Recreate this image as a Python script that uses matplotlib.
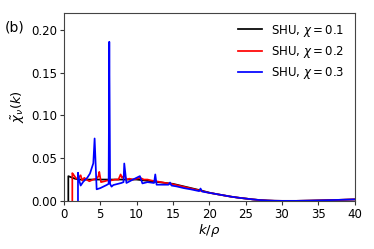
import matplotlib
matplotlib.use("Agg")
import matplotlib.pyplot as plt

# SHU, chi = 0.1 (black)
k1 = [0.6, 0.6, 0.9, 1.5, 2, 3, 4, 5, 6, 7, 8, 9, 10, 11, 12, 13, 14, 15, 16, 17,
      18, 19, 20, 21, 22, 23, 24, 25, 26, 27, 28, 29, 30, 32, 34, 36, 38, 40]
y1 = [0, 0.029, 0.028, 0.026, 0.025, 0.025, 0.025, 0.025, 0.025, 0.025, 0.025, 0.025,
      0.025, 0.024, 0.023, 0.022, 0.021, 0.020, 0.018, 0.016, 0.014, 0.012, 0.0097,
      0.008, 0.0065, 0.005, 0.0038, 0.0028, 0.0018, 0.001, 0.0005, 0.0002, 0.0001,
      0.0001, 0.0004, 0.0008, 0.0013, 0.0018]

# SHU, chi = 0.2 (red)
k2 = [1.15, 1.15, 1.37, 1.7, 2.0, 2.3, 2.5, 2.8, 3.1, 3.5, 4.0, 4.5, 4.75, 4.86, 5.1,
      5.6, 6.0, 6.5, 7.0, 7.5, 7.8, 8.0, 8.3, 8.6, 9.0, 9.5, 10, 10.5, 11, 11.5, 12,
      13, 14, 15, 16, 17, 18, 19, 20, 21, 22, 23, 24, 25, 26, 27, 28, 29, 30, 32, 34,
      36, 38, 40]
y2 = [0, 0.0325, 0.030, 0.026, 0.027, 0.030, 0.024, 0.027, 0.025, 0.023, 0.025, 0.026,
      0.029, 0.034, 0.022, 0.023, 0.024, 0.024, 0.025, 0.025, 0.031, 0.027, 0.030,
      0.025, 0.026, 0.025, 0.026, 0.027, 0.025, 0.025, 0.024, 0.0225, 0.021, 0.0195,
      0.0175, 0.0155, 0.0135, 0.0115, 0.0095, 0.008, 0.0065, 0.005, 0.0038, 0.0028,
      0.0018, 0.001, 0.0005, 0.0002, 0.0001, 0.0001, 0.0004, 0.0008, 0.0013, 0.0018]

# SHU, chi = 0.3 (blue)
k3 = [1.93, 1.93, 2.1, 2.3, 2.66, 3.2, 3.58, 4.04, 4.22, 4.5, 5.0, 5.87, 6.15, 6.24,
      6.35, 6.55, 6.8, 7.9, 8.2, 8.3, 8.6, 9.5, 10.45, 10.8, 11.5, 12.4, 12.57, 12.75,
      13.5, 14.4, 14.6, 14.8, 15.5, 16.5, 17.5, 18.6, 18.8, 19.0, 20, 21, 22, 23, 24,
      25, 26, 27, 28, 29, 30, 32, 34, 36, 38, 40]
y3 = [0, 0.033, 0.024, 0.018, 0.0225, 0.027, 0.032, 0.044, 0.073, 0.0136, 0.015,
      0.0186, 0.020, 0.186, 0.020, 0.0167, 0.0186, 0.021, 0.022, 0.0438, 0.021, 0.025,
      0.029, 0.0205, 0.022, 0.021, 0.031, 0.019, 0.019, 0.019, 0.0215, 0.018, 0.017,
      0.015, 0.0135, 0.0115, 0.0145, 0.011, 0.0095, 0.008, 0.0065, 0.005, 0.0038,
      0.0028, 0.0018, 0.001, 0.0005, 0.0002, 0.0001, 0.0001, 0.0004, 0.0008, 0.0013,
      0.0018]

labels = [r"SHU, $\chi = 0.1$", r"SHU, $\chi = 0.2$", r"SHU, $\chi = 0.3$"]
colors = ["black", "red", "blue"]

fig = plt.figure(figsize=(3.74, 2.49), dpi=100)
ax = fig.add_axes([0.171, 0.193, 0.777, 0.756])
fs = 8.5
for k, y, c, lab in zip([k1, k2, k3], [y1, y2, y3], colors, labels):
    ax.plot(k, y, color=c, lw=1.25, label=lab)

ax.set_xlim(0, 40)
ax.set_ylim(0, 0.22)
ax.set_xticks([0, 5, 10, 15, 20, 25, 30, 35, 40])
ax.set_yticks([0.0, 0.05, 0.10, 0.15, 0.20])
ax.set_yticklabels(["0.00", "0.05", "0.10", "0.15", "0.20"])
ax.tick_params(labelsize=fs, length=3, width=0.8, color="#333333", pad=2)
for s in ax.spines.values():
    s.set_color("#444444")
    s.set_linewidth(0.8)
ax.set_xlabel(r"$k/\rho$", fontsize=fs + 1, labelpad=1)
ax.set_ylabel(r"$\tilde{\chi}_\nu(k)$", fontsize=fs + 1, labelpad=3)
ax.legend(loc="upper right", bbox_to_anchor=(0.99, 0.985), frameon=False,
          fontsize=fs, handlelength=2.0, borderaxespad=0.2, labelspacing=0.45)
fig.text(0.013, 0.875, "(b)", fontsize=fs + 1.5)
fig.savefig("out.png", dpi=100)
